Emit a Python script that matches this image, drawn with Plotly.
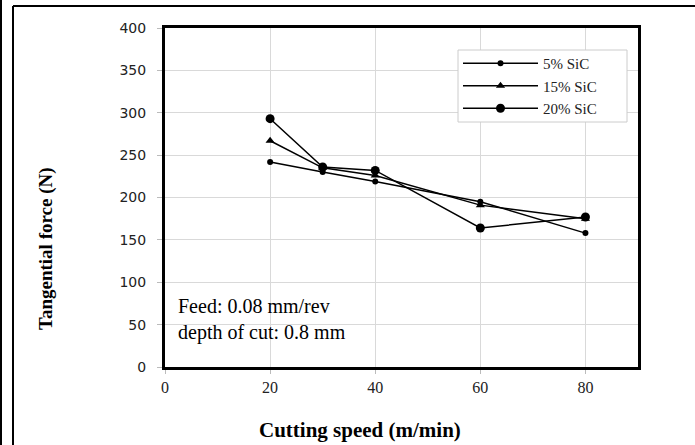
import plotly.graph_objects as go

speed = [20, 30, 40, 60, 80]
sic5 = [242, 230, 219, 195, 158]
sic15 = [267, 235, 226, 191, 175]
sic20 = [293, 236, 232, 164, 177]

series_names = ["5% SiC", "15% SiC", "20% SiC"]
x_ticks = [0, 20, 40, 60, 80]
y_ticks = [0, 50, 100, 150, 200, 250, 300, 350, 400]
x_title = "Cutting speed (m/min)"
y_title = "Tangential force (N)"

fig = go.Figure()
styles = [("circle", 6), ("triangle-up", 8), ("circle", 9)]
for name, vals, (sym, sz) in zip(series_names, [sic5, sic15, sic20], styles):
    fig.add_trace(go.Scatter(
        x=speed, y=vals, name=name, mode="lines+markers",
        line=dict(color="black", width=1.5),
        marker=dict(symbol=sym, size=sz, color="black"),
    ))

L, R, T, B = 165, 638, 28, 367
W, H = R - L, B - T

def px(x):
    return (x - L) / W

def py(y):
    return (B - y) / H

fig.update_layout(
    width=695, height=445,
    margin=dict(l=L, r=695 - R, t=T, b=445 - B),
    paper_bgcolor="white", plot_bgcolor="white",
    showlegend=True,
    legend=dict(
        x=px(458), y=py(47), xanchor="left", yanchor="top",
        bgcolor="rgba(0,0,0,0)", borderwidth=0,
        font=dict(family="Liberation Serif", size=15, color="#222"),
        itemwidth=75, tracegroupgap=0,
    ),
    xaxis=dict(
        range=[0, 90], tickvals=x_ticks, showgrid=True, gridcolor="#d9d9d9",
        gridwidth=1, zeroline=False, showline=True, linecolor="black",
        linewidth=3, mirror=True, ticks="outside", ticklen=4, tickcolor="#bbbbbb",
        tickfont=dict(family="Liberation Serif", size=16, color="#222"),
    ),
    yaxis=dict(
        range=[0, 400], tickvals=y_ticks, showgrid=True, gridcolor="#d9d9d9",
        gridwidth=1, zeroline=False, showline=True, linecolor="black",
        linewidth=3, mirror=True, ticks="outside", ticklen=5, tickcolor="#bbbbbb",
        ticklabelstandoff=8,
        tickfont=dict(family="DejaVu Sans", size=14, color="#222"),
    ),
    shapes=[
        dict(type="line", xref="paper", yref="paper", x0=px(1), x1=px(1),
             y0=py(0), y1=py(445), line=dict(color="black", width=2)),
        dict(type="line", xref="paper", yref="paper", x0=px(13), x1=px(13),
             y0=py(6), y1=py(445), line=dict(color="black", width=2)),
        dict(type="line", xref="paper", yref="paper", x0=px(13), x1=px(695),
             y0=py(6), y1=py(6), line=dict(color="black", width=2)),
        dict(type="rect", xref="paper", yref="paper", x0=px(L + 2), x1=px(455),
             y0=py(347), y1=py(293), fillcolor="white", line=dict(width=0),
             layer="between"),
        dict(type="rect", xref="paper", yref="paper", x0=px(458), x1=px(627),
             y0=py(122), y1=py(50), fillcolor="white",
             line=dict(width=1, color="#cccccc"), layer="above"),
    ],
    annotations=[
        dict(xref="paper", yref="paper", x=px(176), y=py(319), xanchor="left",
             yanchor="middle", align="left", showarrow=False,
             text="Feed: 0.08 mm/rev<br>depth of cut: 0.8 mm",
             font=dict(family="Liberation Serif", size=20, color="black")),
        dict(xref="paper", yref="paper", x=px(360), y=py(430), xanchor="center",
             yanchor="middle", showarrow=False, text="<b>" + x_title + "</b>",
             font=dict(family="Liberation Serif", size=21, color="black")),
        dict(xref="paper", yref="paper", x=px(46), y=py(248), xanchor="center",
             yanchor="middle", showarrow=False, textangle=-90,
             text="<b>" + y_title + "</b>",
             font=dict(family="Liberation Serif", size=19, color="black")),
    ],
)

fig.write_html("out.html")
